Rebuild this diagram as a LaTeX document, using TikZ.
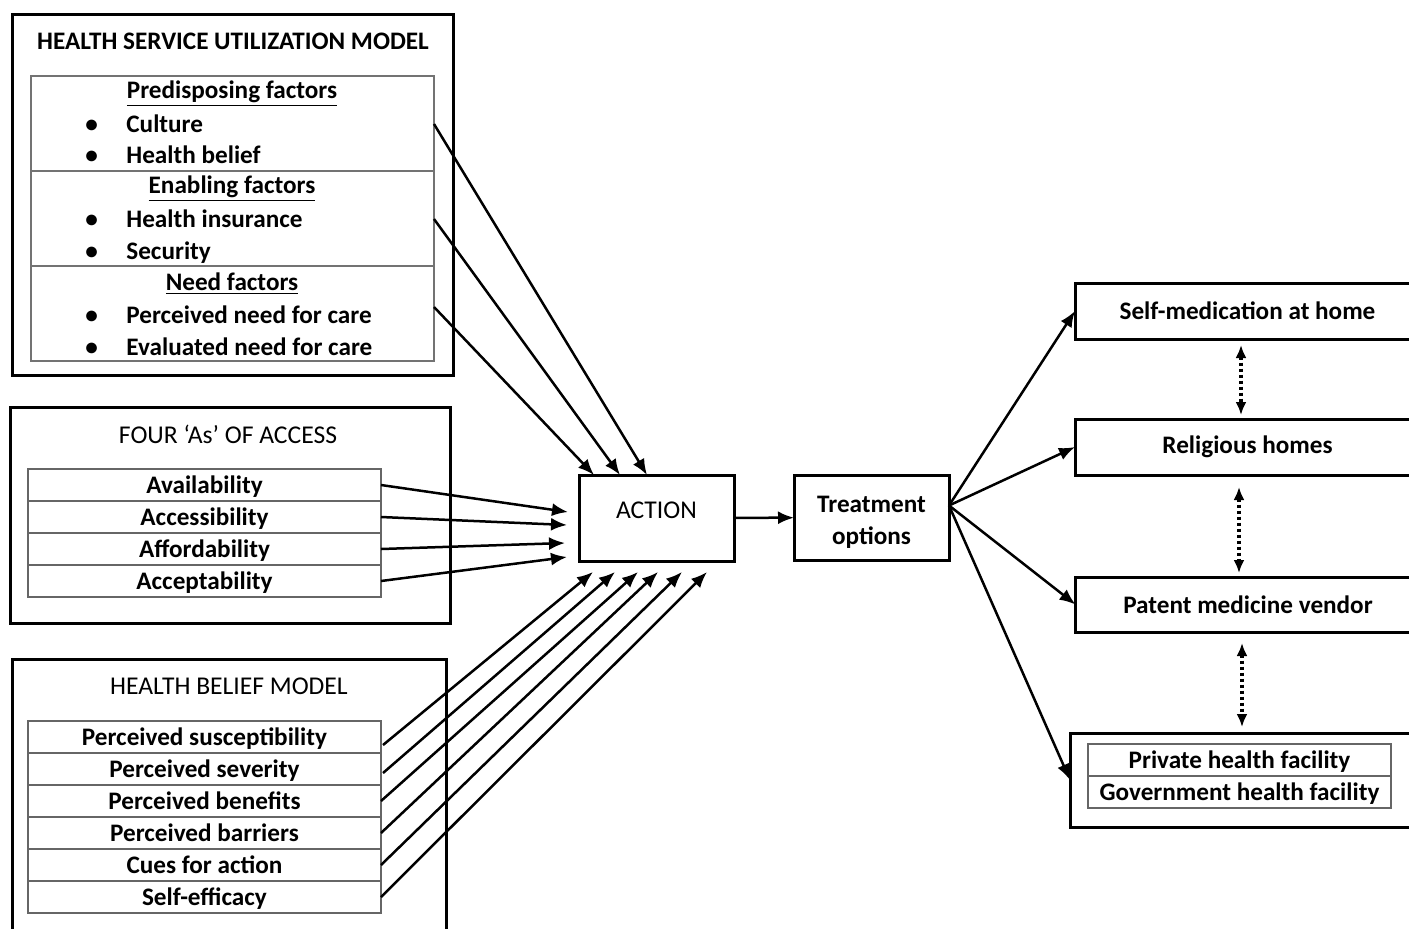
\documentclass[tikz,border=0pt]{standalone}
\usepackage{fontspec}
\setmainfont{Carlito}
\usetikzlibrary{positioning, arrows.meta, calc}

\newcommand{\bodyfont}{\fontsize{12.6}{15}\selectfont\bfseries}
\newcommand{\titlefont}{\fontsize{12.8}{15}\selectfont}

\tikzset{
  frame/.style={draw, line width=1.5pt, inner sep=0pt, outer sep=0pt},
  section/.style={draw=black!55, line width=0.6pt, minimum width=201.5pt, minimum height=47.5pt, inner sep=0pt, outer sep=0pt},
  cell/.style={draw=black!60, line width=0.6pt, minimum width=176.5pt, minimum height=16pt, inner sep=0pt, outer sep=0pt, text height=10.5pt, text depth=2.5pt, font=\bodyfont},
  optbox/.style={draw, line width=1.5pt, minimum width=172.5pt, minimum height=28pt, inner sep=0pt, outer sep=0pt, font=\bodyfont},
  item/.style={anchor=west, inner sep=0pt, text height=10.5pt, text depth=2.5pt, font=\bodyfont},
  head/.style={inner sep=0pt, font=\bodyfont},
  ttl/.style={inner sep=0pt, font=\titlefont},
  arr/.style={-{Latex[length=8pt,width=6.5pt]}, line width=1.25pt},
  dotarr/.style={{Latex[length=6.5pt,width=5.5pt]}-{Latex[length=6.5pt,width=5.5pt]}, line width=1.6pt, dash pattern=on 1.6pt off 1.4pt}
}

\begin{document}
\begin{tikzpicture}[x=0.5pt, y=-0.5pt]
  \clip (0,0) rectangle (1409,928);
  \fill[white] (0,0) rectangle (1409,928);

  % health service utilization model
  \node[frame, minimum width=220.5pt, minimum height=180.5pt] (hsum) at (232.5,194.5) {};
  \node[head] (hsumtitle) at (233,41) {HEALTH SERVICE UTILIZATION MODEL};
  \node[section] (predis) at (232.5,123.5) {};
  \node[section] (enabl) at (232.5,218.5) {};
  \node[section] (needsec) at (232.5,313.5) {};
  \node[head] (predishead) at (232,94) {\underline{Predisposing factors}};
  \node[head] (enablhead) at (232,189) {\underline{Enabling factors}};
  \node[head] (needhead) at (232,284) {\underline{Need factors}};
  \foreach \y/\t/\n in {124/Culture/cult, 155/Health belief/hbel, 219/Health insurance/hins,
                        251/Security/secur, 315/Perceived need for care/pneed, 347/Evaluated need for care/eneed} {
    \node[item] (\n-dot) at (85,\y) {\textbullet};
    \node[item] (\n) at (126,\y) {\t};
  }

  % four As of access
  \node[frame, minimum width=220pt, minimum height=108pt] (fouras) at (230,515) {};
  \node[ttl] (fourastitle) at (228,434) {FOUR ‘As’ OF ACCESS};
  \node[cell] (avail) at (204.5,485) {Availability};
  \node[cell] (access) [below=0pt of avail] {Accessibility};
  \node[cell] (afford) [below=0pt of access] {Affordability};
  \node[cell] (accept) [below=0pt of afford] {Acceptability};

  % health belief model
  \node[frame, minimum width=217pt, minimum height=140.5pt] (hbm) at (229,799.5) {};
  \node[ttl] (hbmtitle) at (229,686) {HEALTH BELIEF MODEL};
  \node[cell] (psus) at (204.5,737) {Perceived susceptibility};
  \node[cell] (psev) [below=0pt of psus] {Perceived severity};
  \node[cell] (pben) [below=0pt of psev] {Perceived benefits};
  \node[cell] (pbar) [below=0pt of pben] {Perceived barriers};
  \node[cell] (cues) [below=0pt of pbar] {Cues for action};
  \node[cell] (selfeff) [below=0pt of cues] {Self-efficacy};

  % action and treatment options
  \node[frame, minimum width=77.5pt, minimum height=43pt, text depth=8pt, font=\titlefont] (action) at (656.5,518) {ACTION};
  \node[frame, minimum width=77.5pt, minimum height=42.5pt, align=center, font=\bodyfont] (treat) at (871.5,517.5) {\rule{0pt}{13pt}Treatment\\[1pt]options};

  % options
  \node[optbox] (selfmed) at (1247.5,311) {Self-medication at home};
  \node[optbox] (relig) at (1247.5,447) {Religious homes};
  \node[optbox, minimum height=27.5pt] (patent) at (1248,604.5) {Patent medicine vendor};
  \node[frame, minimum width=175pt, minimum height=47pt] (facility) at (1245,780) {};
  \node[cell, minimum width=151.5pt] (private) at (1239.5,760) {Private health facility};
  \node[cell, minimum width=151.5pt] (govt) [below=0pt of private] {Government health facility};

  % arrows into action
  \draw[arr] (predis.east |- cult) -- ($(action.north)+(-9.5,0)$);
  \draw[arr] (enabl.east |- hins) -- ($(action.north)+(-36.5,0)$);
  \draw[arr] ($(needsec.east |- pneed)+(0,-8)$) -- ($(action.north)+(-62.5,0)$);

  \draw[arr] (avail.east) -- ($(action.west)+(-11,-6)$);
  \draw[arr] (access.east) -- ($(action.west)+(-12,7)$);
  \draw[arr] (afford.east) -- ($(action.west)+(-14,25)$);
  \draw[arr] (accept.east) -- ($(action.west)+(-12,39)$);

  \draw[arr] ($(psus.east)+(2,8)$) -- ($(action.south)+(-63.5,11)$);
  \draw[arr] ($(psev.east)+(2,4)$) -- ($(action.south)+(-41.5,11)$);
  \draw[arr] (pben.east) -- ($(action.south)+(-18.5,11)$);
  \draw[arr] (pbar.east) -- ($(action.south)+(1.5,11)$);
  \draw[arr] (cues.east) -- ($(action.south)+(25.5,11)$);
  \draw[arr] (selfeff.east) -- ($(action.south)+(50.5,11)$);

  % action to options
  \draw[arr] (action) -- (treat);
  \coordinate (fan) at ($(treat.east)+(0,-12)$);
  \draw[arr] (fan) -- (selfmed.west);
  \draw[arr] (fan) -- (relig.west);
  \draw[arr] (fan) -- (patent.west);
  \draw[arr] (fan) -- (facility.west);

  \draw[dotarr] ($(selfmed.south)+(-6.5,6)$) -- ($(relig.north)+(-6.5,-4)$);
  \draw[dotarr] ($(relig.south)+(-8.5,12)$) -- ($(patent.north)+(-9,-4)$);
  \draw[dotarr] ($(patent.south)+(-6,11)$) -- ($(facility.north)+(-3,-6)$);
\end{tikzpicture}
\end{document}
